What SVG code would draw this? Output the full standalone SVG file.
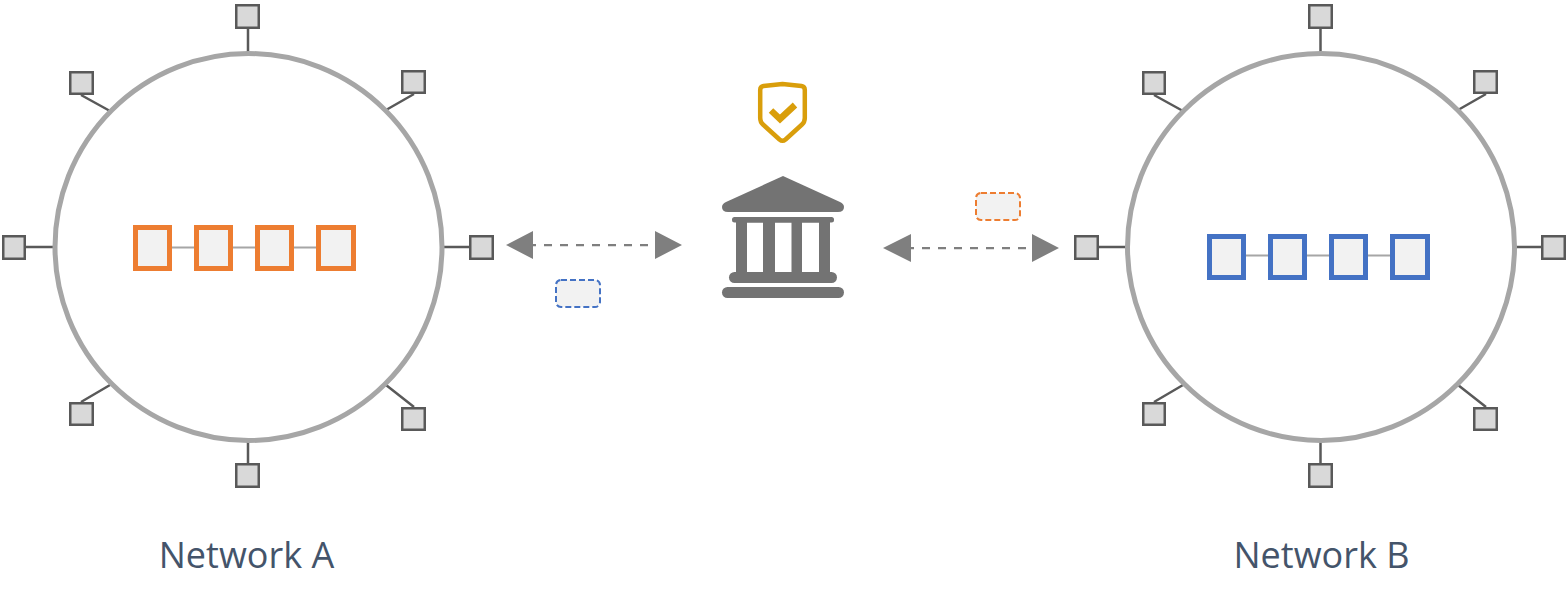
<svg xmlns="http://www.w3.org/2000/svg" width="1567" height="605" viewBox="0 0 1567 605">
<style>
.ring{fill:#fff;stroke:#a6a6a6;stroke-width:5}
.peer{fill:#d9d9d9;stroke:#595959;stroke-width:2.500}
.spoke{stroke:#595959;stroke-width:2.500;fill:none}
.chain{stroke:#a6a6a6;stroke-width:2;fill:none}
.ob{fill:#f2f2f2;stroke:#ed7d31;stroke-width:5}
.bb{fill:#f2f2f2;stroke:#4472c4;stroke-width:5}
.dash{stroke:#7f7f7f;stroke-width:2.250;stroke-dasharray:8 8;stroke-dashoffset:5;fill:none}
.head{fill:#7f7f7f}
.bank{fill:#737373}
.msg{stroke-width:2;stroke-dasharray:6 3}
.label{font-family:"Open Sans","Liberation Sans",sans-serif;font-size:36px;fill:#44546a;text-anchor:middle}
</style>
<g id="connectors">
<path class="spoke" d="M248 29V53M26 247H55M442 247H469M248 441V463M81 95L110 111M414 94L386 110M81 402L110 385M414 407L386 385"/>
<path class="spoke" d="M1320.500 29V53M1099 247H1127M1515 247H1541M1320.500 441V463M1154 95L1183 111M1486 94L1458 110M1154 402L1183 385M1486 407L1458 385"/>
<path class="dash" d="M533 245H655M911 248H1032"/>
<path class="head" d="M506 245L533 231V259ZM682 245L655 231V259ZM883 248L911 234V262ZM1059 248L1032 234V262Z"/>
</g>
<g id="network-a">
<circle class="ring" cx="248.500" cy="247" r="193.500"/>
<path class="chain" d="M172 247.500H194M233 247.500H255M294 247.500H316"/>
<rect class="ob" x="135.500" y="227.500" width="34" height="41"/>
<rect class="ob" x="196.500" y="227.500" width="34" height="41"/>
<rect class="ob" x="257.500" y="227.500" width="34" height="41"/>
<rect class="ob" x="318.500" y="227.500" width="35" height="41"/>
<rect class="peer" x="236.250" y="5.250" width="22.500" height="22.500"/>
<rect class="peer" x="3.250" y="236.250" width="21.500" height="22.500"/>
<rect class="peer" x="470.250" y="236.250" width="22.500" height="22.500"/>
<rect class="peer" x="236.250" y="464.250" width="22.500" height="22.500"/>
<rect class="peer" x="70.250" y="72.250" width="22.500" height="21.500"/>
<rect class="peer" x="402.250" y="71.250" width="22.500" height="21.500"/>
<rect class="peer" x="70.250" y="403.250" width="22.500" height="21.500"/>
<rect class="peer" x="402.250" y="408.250" width="22.500" height="21.500"/>
<text class="label" x="246.500" y="568">Network A</text>
</g>
<g id="network-b">
<circle class="ring" cx="1321" cy="247" r="193.500"/>
<path class="chain" d="M1246 255.500H1268M1307 255.500H1329M1368 255.500H1390"/>
<rect class="bb" x="1209.500" y="236.500" width="34" height="41"/>
<rect class="bb" x="1270.500" y="236.500" width="34" height="41"/>
<rect class="bb" x="1331.500" y="236.500" width="34" height="41"/>
<rect class="bb" x="1392.500" y="236.500" width="35" height="41"/>
<rect class="peer" x="1309.250" y="5.250" width="22.500" height="22.500"/>
<rect class="peer" x="1075.250" y="236.250" width="22.500" height="22.500"/>
<rect class="peer" x="1542.250" y="236.250" width="22.500" height="22.500"/>
<rect class="peer" x="1309.250" y="464.250" width="22.500" height="22.500"/>
<rect class="peer" x="1143.250" y="72.250" width="21.500" height="21.500"/>
<rect class="peer" x="1474.250" y="71.250" width="22.500" height="21.500"/>
<rect class="peer" x="1143.250" y="403.250" width="21.500" height="21.500"/>
<rect class="peer" x="1474.250" y="408.250" width="22.500" height="21.500"/>
<text class="label" x="1321.500" y="568">Network B</text>
</g>
<g id="message-a">
<rect class="msg" x="556" y="280" width="44" height="27" rx="5" fill="#f2f2f2" stroke="#4472c4"/>
</g>
<g id="message-b">
<rect class="msg" x="976" y="193" width="44" height="27" rx="5" fill="#f2f2f2" stroke="#ed7d31"/>
</g>
<g id="shield">
<path d="M760.200 90Q760.200 86.500 763.500 86L782.500 84L801.500 86Q804.800 86.500 804.800 90V118Q804.800 122 802 124.500L785.500 139.500Q782.500 142 779.500 139.500L763 124.500Q760.200 122 760.200 118Z" fill="#fff" stroke="#d99e0b" stroke-width="4.500" stroke-linejoin="round"/>
<path d="M771 110.500L780 119L795 105" fill="none" stroke="#d99e0b" stroke-width="6.500"/>
</g>
<g id="bank">
<path class="bank" d="M783 176L840 202Q844 204 844 207Q844 212 838 212H728Q722 212 722 207Q722 204 726 202Z"/>
<rect class="bank" x="732" y="217" width="102" height="5.500" rx="2.500"/>
<path class="bank" fill-rule="evenodd" d="M736 222H830V273H736ZM747 222.500V272H763V222.500ZM775 222.500V272H791.500V222.500ZM802 222.500V272H819V222.500Z"/>
<rect class="bank" x="729" y="272" width="108" height="11" rx="5.500"/>
<rect class="bank" x="722" y="287" width="122" height="11" rx="5.500"/>
</g>
</svg>
